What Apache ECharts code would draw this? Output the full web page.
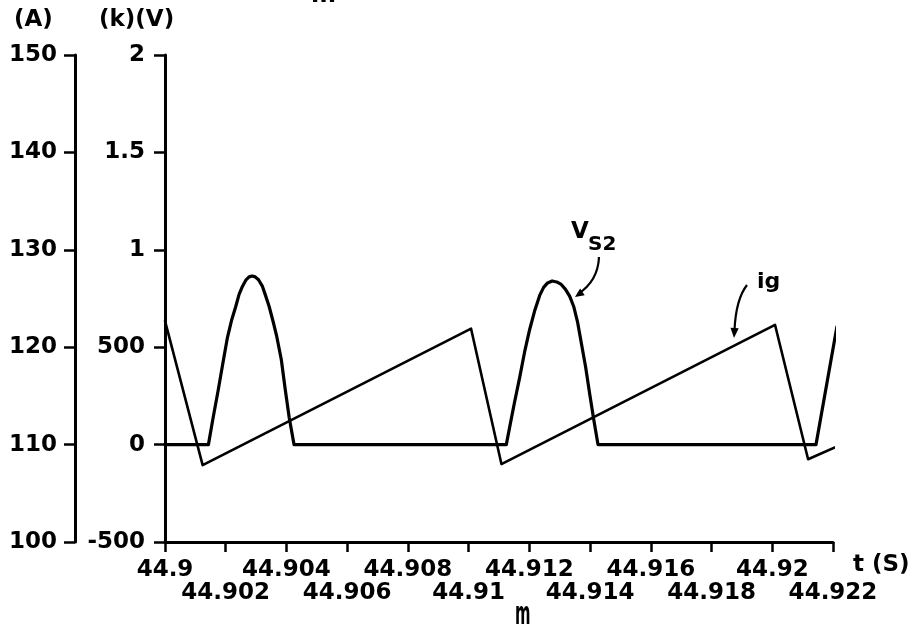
<!DOCTYPE html>
<html>
<head>
<meta charset="utf-8">
<script src="https://cdn.jsdelivr.net/npm/echarts@6/dist/echarts.min.js"></script>
<style>
html,body{margin:0;padding:0;background:#fff;}
#chart{width:912px;height:633px;}
</style>
</head>
<body>
<div id="chart"></div>
<script>
// ---- data ----
const xTickLabels = ['44.9','44.902','44.904','44.906','44.908','44.91','44.912','44.914','44.916','44.918','44.92','44.922'];
const vTickLabels = ['-500','0','500','1','1.5','2'];
const aTickLabels = ['100','110','120','130','140','150'];

// V_S2 (volts, inner axis)
const vsT = [44.9,
  44.90143, 44.90158, 44.90175, 44.90191, 44.90205, 44.90219, 44.90233, 44.90244, 44.90255, 44.90267, 44.90277,
  44.90287, 44.90297, 44.90308, 44.90321, 44.90331, 44.90343, 44.90356, 44.90368, 44.90383, 44.90396, 44.90409, 44.90425,
  44.91124, 44.91138, 44.91151, 44.91168, 44.91184, 44.91201, 44.91217, 44.91234, 44.91247, 44.91260, 44.91275,
  44.91290, 44.91305, 44.91319, 44.91333, 44.91346, 44.91359, 44.91372, 44.91385, 44.91399, 44.91412, 44.91426,
  44.92144, 44.92213];
const vsV = [0,
  0, 134, 278, 421, 545, 637, 709, 771, 812, 846, 861,
  866, 861, 846, 812, 766, 709, 632, 555, 437, 283, 139, 0,
  0, 113, 216, 344, 473, 591, 684, 766, 807, 830, 840,
  835, 822, 797, 761, 709, 627, 514, 401, 257, 129, 0,
  0, 606];

// i_g (amperes, outer axis)
const igT = [44.9, 44.90124, 44.91008, 44.91108, 44.92009, 44.92118, 44.92206];
const igA = [122.7, 107.9, 121.9, 108.0, 122.3, 108.5, 109.7];

const FONT = 'DejaVu Sans';
const vsData = vsT.map((t, i) => [t, vsV[i]]);
const igData = igT.map((t, i) => [t, igA[i]]);

const chart = echarts.init(document.getElementById('chart'), null, {renderer: 'canvas'});

const axisLineStyle = {color: '#000', width: 3};
const tickStyle = {color: '#000', width: 2.5};
const labelBase = {color: '#000', fontFamily: FONT, fontWeight: 'bold', fontSize: 23};

function txt(left, top, text, size) {
  return {type: 'text', left: left, top: top, style: {text: text, fill: '#000', font: 'bold ' + size + 'px "' + FONT + '"'}};
}
function xIdx(v) { return Math.round((v - 44.9) / 0.002); }

chart.setOption({
  backgroundColor: '#fff',
  animation: false,
  grid: {left: 165, right: 79, top: 55, bottom: 91, containLabel: false, outerBoundsMode: 'none'},
  xAxis: [
    {
      type: 'value', position: 'bottom', min: 44.9, max: 44.922, interval: 0.002,
      axisLine: {show: true, onZero: false, lineStyle: axisLineStyle},
      axisTick: {show: true, length: 10, lineStyle: tickStyle},
      splitLine: {show: false},
      axisLabel: Object.assign({}, labelBase, {
        margin: 17, showMinLabel: true, showMaxLabel: true, hideOverlap: false,
        formatter: function (v) { const i = xIdx(v); return i % 2 ? '' : xTickLabels[i]; }
      })
    },
    {
      type: 'value', position: 'bottom', min: 44.9, max: 44.922, interval: 0.002,
      axisLine: {show: false, onZero: false},
      axisTick: {show: false},
      splitLine: {show: false},
      axisLabel: Object.assign({}, labelBase, {
        margin: 40, showMinLabel: true, showMaxLabel: true, hideOverlap: false,
        formatter: function (v) { const i = xIdx(v); return i % 2 ? xTickLabels[i] : ''; }
      })
    }
  ],
  yAxis: [
    {
      type: 'value', position: 'left', offset: 0, min: -500, max: 2000, interval: 500,
      axisLine: {show: true, onZero: false, lineStyle: axisLineStyle},
      axisTick: {show: true, length: 11, lineStyle: tickStyle},
      splitLine: {show: false},
      axisLabel: Object.assign({}, labelBase, {
        margin: 20, showMinLabel: true, showMaxLabel: true,
        formatter: function (v) { return vTickLabels[Math.round((v + 500) / 500)]; }
      })
    },
    {
      type: 'value', position: 'left', offset: 90, min: 100, max: 150, interval: 10,
      axisLine: {show: true, onZero: false, lineStyle: axisLineStyle},
      axisTick: {show: true, length: 11, lineStyle: tickStyle},
      splitLine: {show: false},
      axisLabel: Object.assign({}, labelBase, {
        margin: 18, showMinLabel: true, showMaxLabel: true,
        formatter: function (v) { return aTickLabels[Math.round((v - 100) / 10)]; }
      })
    }
  ],
  series: [
    {
      name: 'VS2', type: 'line', xAxisIndex: 0, yAxisIndex: 0, data: vsData, showSymbol: false, symbol: 'none',
      clip: false, smooth: false,
      lineStyle: {color: '#000', width: 3.2, join: 'round', cap: 'round'}
    },
    {
      name: 'ig', type: 'line', xAxisIndex: 0, yAxisIndex: 1, data: igData, showSymbol: false, symbol: 'none',
      clip: false, smooth: false,
      lineStyle: {color: '#000', width: 2.6, join: 'round', cap: 'round'}
    }
  ],
  graphic: [
    txt(14, 9, '(A)', 23),
    txt(99, 9, '(k)(V)', 23),
    txt(311, -16, 'm', 24),
    {type: 'text', x: 515, y: 600, scaleX: 0.62, scaleY: 1.3,
     style: {text: 'm', fill: '#000', font: 'bold 24px "' + FONT + '"'}},
    txt(853, 554, 't (S)', 23),
    txt(571, 221, 'V', 23),
    txt(588, 235, 'S2', 20),
    txt(757, 271, 'ig', 22),
    {type: 'bezierCurve', shape: {x1: 599, y1: 257, x2: 578, y2: 294, cpx1: 598, cpy1: 281}, style: {stroke: '#000', lineWidth: 2.2, fill: null}},
    {type: 'polygon', shape: {points: [[575, 297], [584.7, 295.2], [580.1, 288.6]]}, style: {fill: '#000'}},
    {type: 'bezierCurve', shape: {x1: 747, y1: 285, x2: 734.5, y2: 330, cpx1: 736, cpy1: 299}, style: {stroke: '#000', lineWidth: 2.2, fill: null}},
    {type: 'polygon', shape: {points: [[734, 338], [738.7, 328.3], [730.5, 327.7]]}, style: {fill: '#000'}}
  ]
});
</script>
</body>
</html>
